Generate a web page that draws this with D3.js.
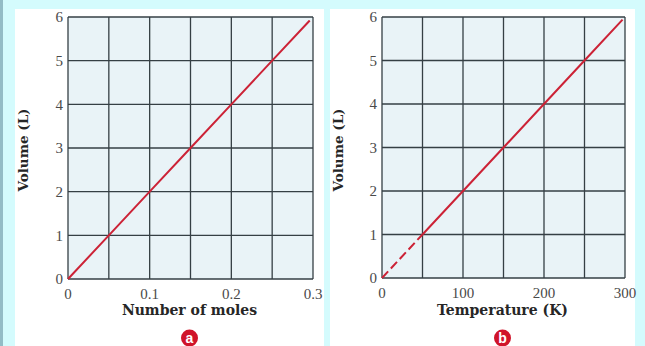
<!DOCTYPE html>
<html lang="en">
<head>
<meta charset="utf-8">
<title>Volume vs moles and temperature</title>
<script src="https://d3js.org/d3.v7.min.js"></script>
<style>
body { margin: 0; background: #d4fbfd; }
svg { display: block; }
</style>
</head>
<body>
<div id="container"></div>
<script>
// data
const moles = [0, 0.05, 0.1, 0.15, 0.2, 0.25, 0.296];
const volumeA = [0, 1, 2, 3, 4, 5, 5.92];
const tempDashed = [0, 50];
const volumeDashed = [0, 1];
const temps = [50, 100, 150, 200, 250, 297];
const volumeB = [1, 2, 3, 4, 5, 5.94];
const molesTicks = [0, 0.1, 0.2, 0.3];
const tempTicks = [0, 100, 200, 300];
const volumeTicks = [0, 1, 2, 3, 4, 5, 6];

const width = 645, height = 346;
const svg = d3.select("#container").append("svg")
    .attr("width", width)
    .attr("height", height);

svg.append("rect").attr("width", width).attr("height", height).attr("fill", "#d4fbfd");
svg.append("rect").attr("width", 3).attr("height", height).attr("fill", "#93bcc6");

const gridColor = "#353f44";
const red = "#cc2236";

function panel(opt) {
    svg.append("rect")
        .attr("x", opt.box[0]).attr("y", 9)
        .attr("width", opt.box[1] - opt.box[0]).attr("height", height - 9)
        .attr("fill", "#ffffff");

    const x = d3.scaleLinear().domain(opt.xDomain).range([opt.left, opt.right]);
    const y = d3.scaleLinear().domain([0, 6]).range([opt.bottom, 17]);
    const g = svg.append("g");

    g.append("rect")
        .attr("x", opt.left).attr("y", 17)
        .attr("width", opt.right - opt.left).attr("height", opt.bottom - 17)
        .attr("fill", "#e9f3f7");

    // grid
    const step = (opt.xDomain[1] - opt.xDomain[0]) / 6;
    const xs = d3.range(7).map(i => opt.xDomain[0] + i * step);
    g.selectAll(".vx").data(xs).enter().append("line")
        .attr("x1", d => x(d)).attr("x2", d => x(d))
        .attr("y1", y(0)).attr("y2", y(6))
        .attr("stroke", gridColor).attr("stroke-width", 1.3);
    g.selectAll(".hy").data(volumeTicks).enter().append("line")
        .attr("x1", x(opt.xDomain[0])).attr("x2", x(opt.xDomain[1]))
        .attr("y1", d => y(d)).attr("y2", d => y(d))
        .attr("stroke", gridColor).attr("stroke-width", 1.3);

    // tick labels
    g.selectAll(".yl").data(volumeTicks).enter().append("text")
        .attr("x", opt.left - 5).attr("y", d => y(d))
        .attr("dy", "0.35em")
        .attr("text-anchor", "end")
        .attr("font-family", "Liberation Serif")
        .attr("font-size", 15).attr("fill", "#4a4a4a")
        .text(d => d);
    g.selectAll(".xl").data(opt.xTicks).enter().append("text")
        .attr("x", d => x(d)).attr("y", opt.bottom + 20)
        .attr("text-anchor", "middle")
        .attr("font-family", "Liberation Serif")
        .attr("font-size", 15).attr("fill", "#4a4a4a")
        .text(d => d);

    // lines
    const line = d3.line().x(d => x(d[0])).y(d => y(d[1]));
    opt.series.forEach(s => {
        g.append("path")
            .datum(d3.zip(s.xv, s.yv))
            .attr("d", line)
            .attr("fill", "none")
            .attr("stroke", red).attr("stroke-width", 2)
            .attr("stroke-dasharray", s.dash || null);
    });

    // titles
    const cx = (opt.left + opt.right) / 2 - 1;
    g.append("text")
        .attr("x", cx).attr("y", 315)
        .attr("text-anchor", "middle")
        .attr("font-family", "DejaVu Serif").attr("font-weight", "bold")
        .attr("font-size", 14).attr("fill", "#262626")
        .text(opt.xTitle);
    g.append("text")
        .attr("transform", "translate(" + opt.yTitleX + ",150) rotate(-90)")
        .attr("text-anchor", "middle")
        .attr("dy", "0.35em")
        .attr("font-family", "DejaVu Serif").attr("font-weight", "bold")
        .attr("font-size", 13.5).attr("fill", "#262626")
        .text("Volume (L)");

    // badge
    g.append("circle").attr("cx", cx).attr("cy", 338).attr("r", 8.5).attr("fill", "#d0142a");
    g.append("text")
        .attr("x", cx).attr("y", 338).attr("dy", "0.35em")
        .attr("text-anchor", "middle")
        .attr("font-family", "Liberation Sans").attr("font-weight", "bold")
        .attr("font-size", 14).attr("fill", "#ffffff")
        .text(opt.badge);
}

panel({
    box: [15, 324], left: 68, right: 313, bottom: 279,
    xDomain: [0, 0.3], xTicks: molesTicks,
    series: [{xv: moles, yv: volumeA}],
    xTitle: "Number of moles", yTitleX: 23, badge: "a"
});

panel({
    box: [330, 635], left: 382, right: 625, bottom: 278,
    xDomain: [0, 300], xTicks: tempTicks,
    series: [{xv: tempDashed, yv: volumeDashed, dash: "9,4"}, {xv: temps, yv: volumeB}],
    xTitle: "Temperature (K)", yTitleX: 338, badge: "b"
});
</script>
</body>
</html>
